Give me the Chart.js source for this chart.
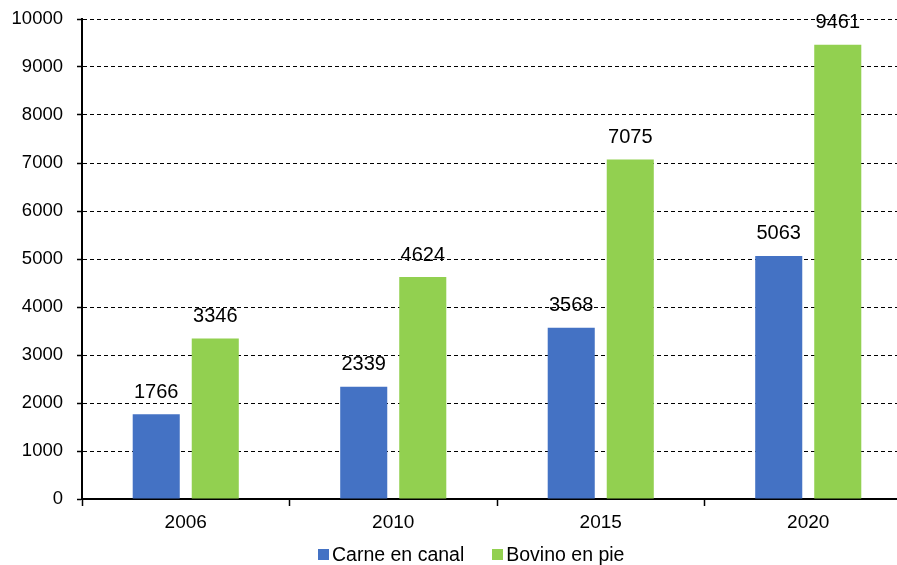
<!DOCTYPE html>
<html>
<head>
<meta charset="utf-8">
<script src="https://cdn.jsdelivr.net/npm/chart.js@4.4.1/dist/chart.umd.min.js"></script>
<style>
  html, body { margin: 0; padding: 0; overflow: hidden; background: #fff; }
  #wrap { position: relative; width: 916px; height: 565px; }
  #legend {
    position: absolute; left: 318px; top: 542px; height: 24px;
    font: 19.5px 'Liberation Sans', Arial, sans-serif; color: #000;
    display: flex; align-items: center; white-space: nowrap;
  }
  #legend span.box { display: inline-block; width: 11px; height: 11px; margin-right: 3px; }
  #legend span.item { display: inline-flex; align-items: center; margin-right: 28px; }
</style>
</head>
<body>
<div id="wrap"><canvas id="chart"></canvas><div id="legend"></div></div>
<script>
// values
const years = ['2006', '2010', '2015', '2020'];
const carneEnCanal = [1766, 2339, 3568, 5063];
const bovinoEnPie = [3346, 4624, 7075, 9461];
const seriesNames = ['Carne en canal', 'Bovino en pie'];
const colors = ['#4472C4', '#92D050'];

const FONT = "'Liberation Sans', Arial, sans-serif";
const FS = 19;

// write the value on top of each bar
const valueLabels = {
    id: 'valueLabels',
    afterDatasetsDraw(chart) {
        const ctx = chart.ctx;
        ctx.save();
        ctx.font = '20px ' + FONT;
        ctx.fillStyle = '#000';
        ctx.textAlign = 'center';
        ctx.textBaseline = 'middle';
        chart.data.datasets.forEach((ds, i) => {
            chart.getDatasetMeta(i).data.forEach((bar, j) => {
                ctx.fillText(ds.data[j], bar.x, bar.y - 22);
            });
        });
        ctx.restore();
    }
};

const ctx = document.getElementById('chart');
const chart = new Chart(ctx, {
    type: 'bar',
    data: {
        labels: years,
        datasets: [
            { label: seriesNames[0], data: carneEnCanal, backgroundColor: colors[0] },
            { label: seriesNames[1], data: bovinoEnPie, backgroundColor: colors[1] }
        ]
    },
    options: {
        responsive: true,
        maintainAspectRatio: false,
        animation: false,
        categoryPercentage: 0.569,
        barPercentage: 0.797,
        layout: { padding: { left: 9, top: 19, right: 4, bottom: 36 } },
        plugins: {
            tooltip: { enabled: false },
            legend: { display: false }
        },
        scales: {
            x: {
                offset: true,
                afterFit: s => { s.height = 30; },
                grid: {
                    offset: true,
                    drawOnChartArea: false,
                    drawTicks: true,
                    tickLength: 7,
                    tickColor: '#000',
                    tickWidth: 1.5
                },
                border: { color: '#000', width: 2 },
                ticks: { font: { family: FONT, size: FS }, color: '#000', padding: 5 }
            },
            y: {
                min: 0,
                max: 10000,
                afterFit: s => { s.width = 73; s.paddingTop = 0; s.paddingBottom = 0; },
                ticks: {
                    stepSize: 1000,
                    font: { family: FONT, size: 18.5 },
                    color: '#000',
                    padding: 14,
                    callback: v => String(v)
                },
                grid: {
                    color: '#000',
                    lineWidth: 1,
                    tickBorderDash: [0, 0],
                    tickLength: 5,
                    tickColor: '#000',
                    tickWidth: 1.5
                },
                border: { color: '#000', width: 2, dash: [4, 3] }
            }
        }
    },
    plugins: [valueLabels]
});

// legend as plain html under the chart
const legend = document.getElementById('legend');
chart.data.datasets.forEach(ds => {
    const item = document.createElement('span');
    item.className = 'item';
    const box = document.createElement('span');
    box.className = 'box';
    box.style.background = ds.backgroundColor;
    item.appendChild(box);
    item.appendChild(document.createTextNode(ds.label));
    legend.appendChild(item);
});
</script>
</body>
</html>
